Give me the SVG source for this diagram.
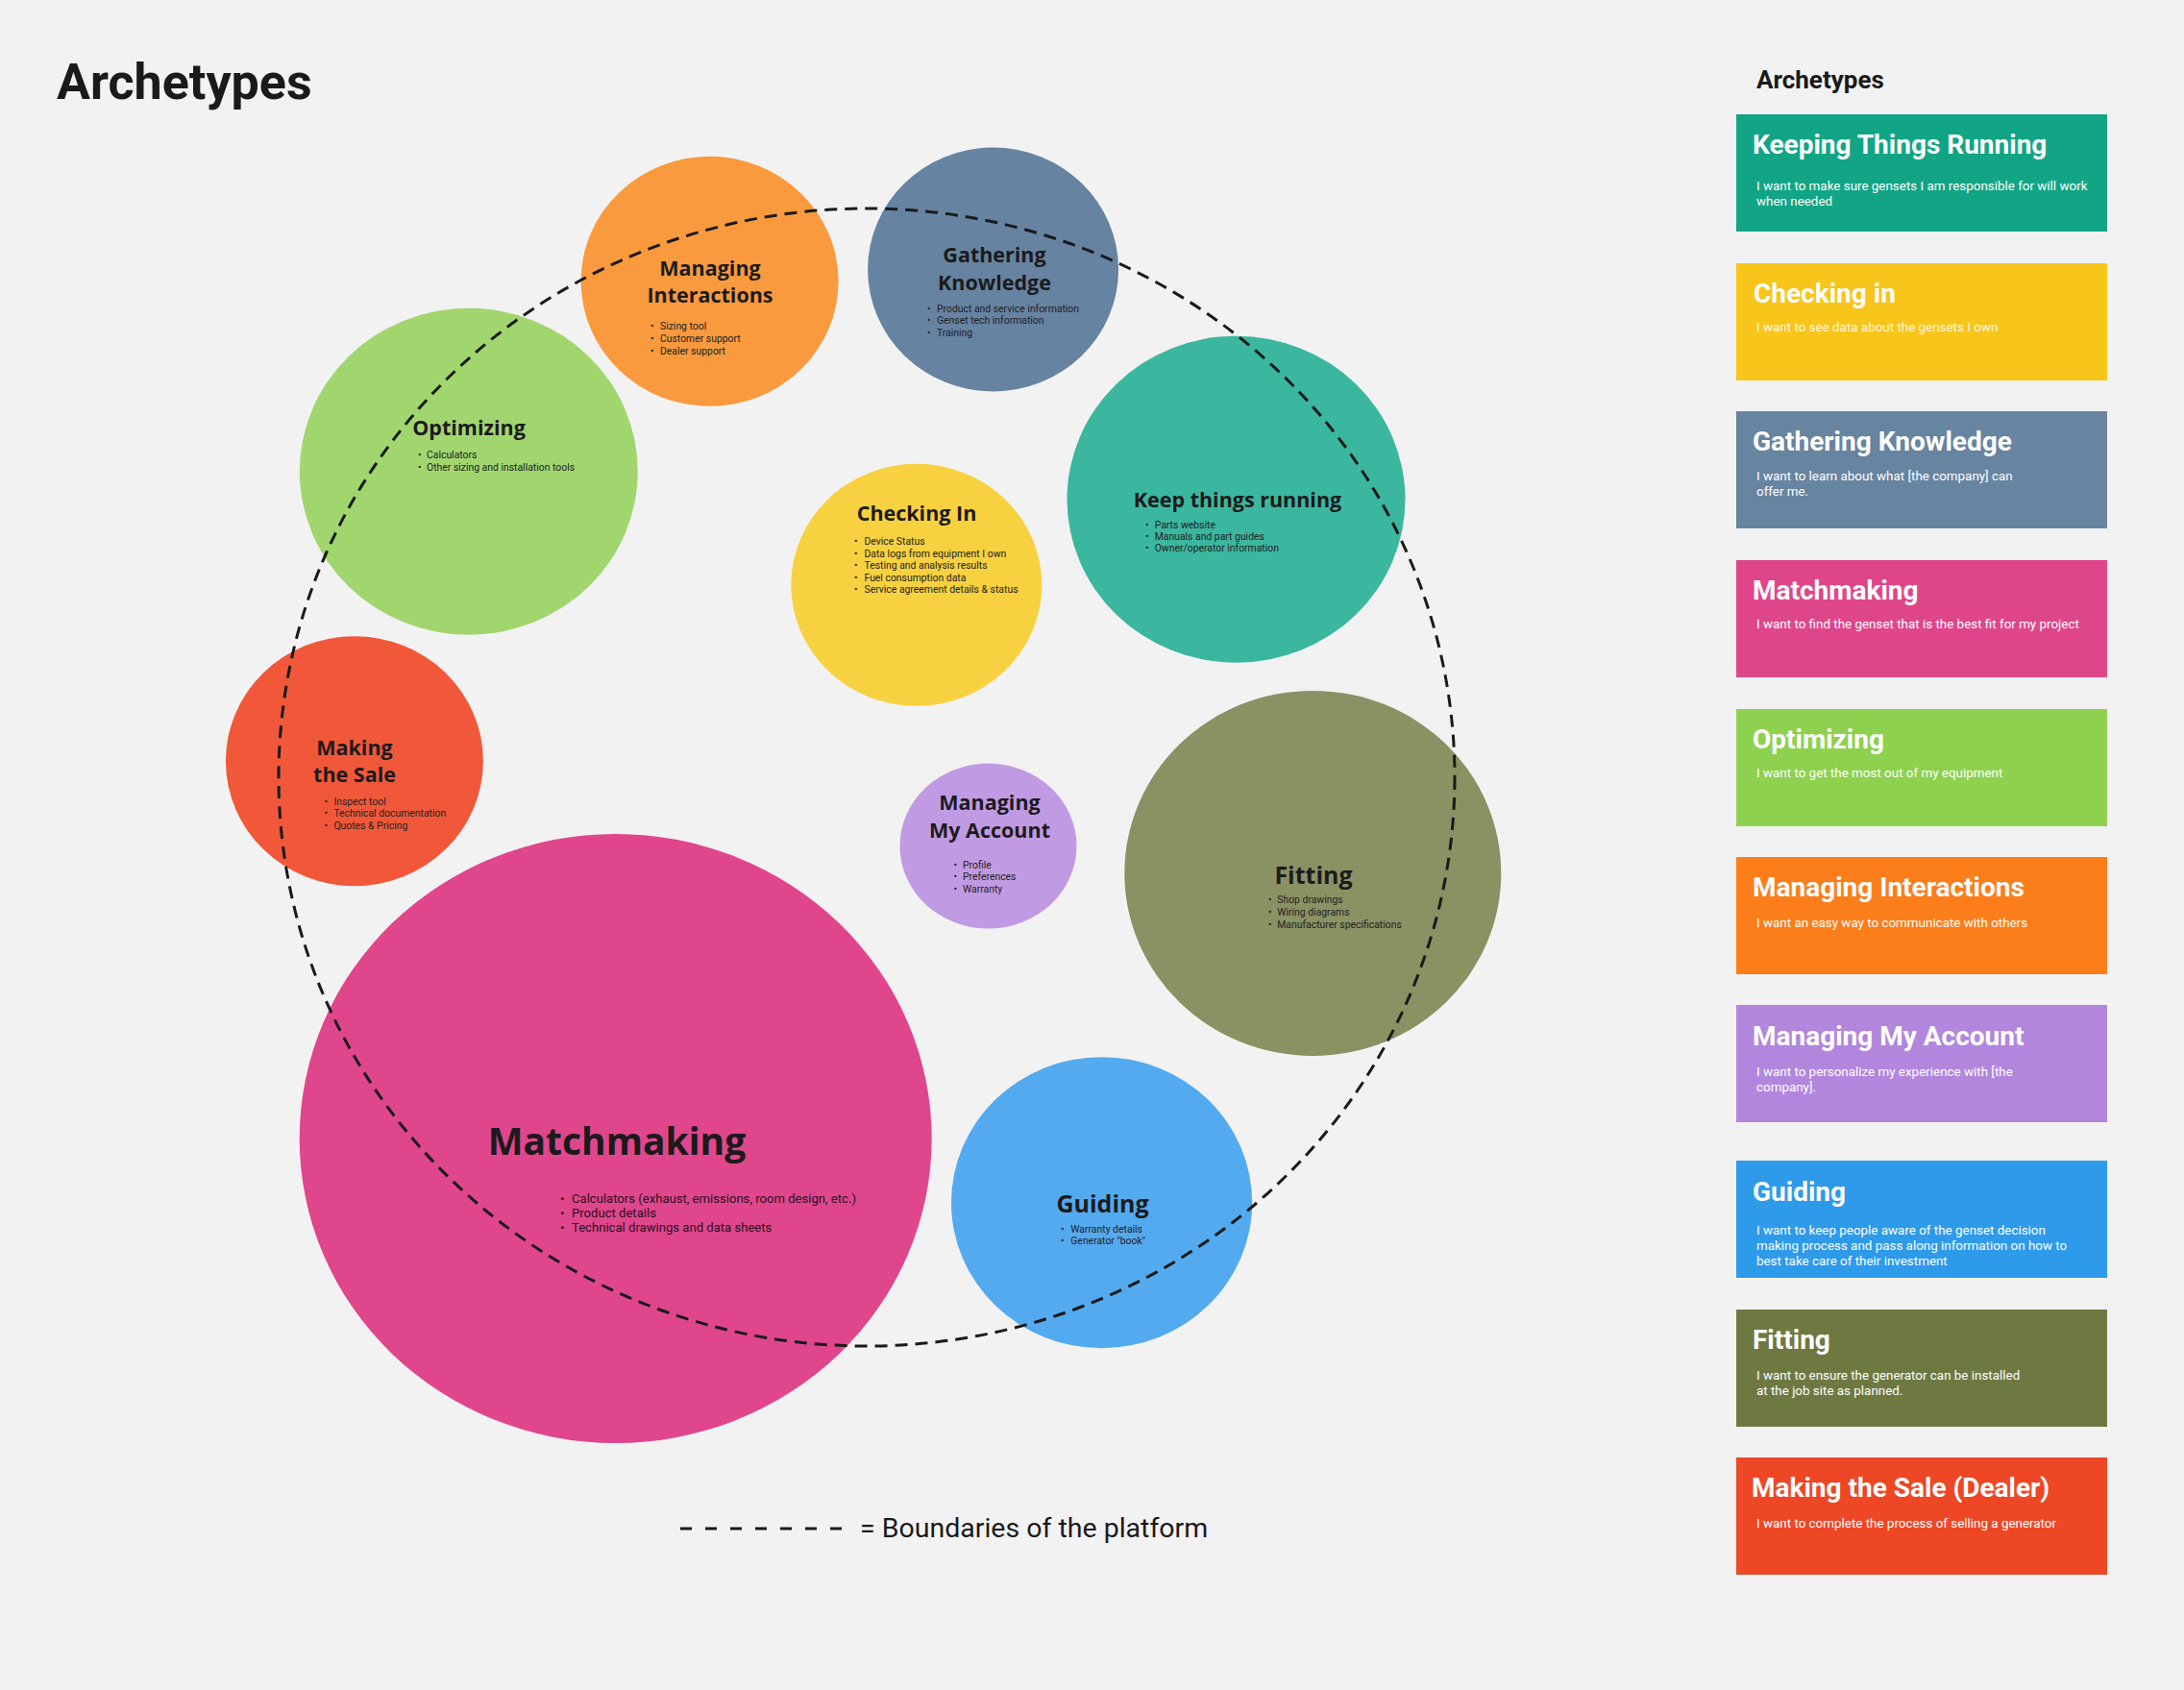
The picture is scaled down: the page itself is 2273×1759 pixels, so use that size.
<svg xmlns="http://www.w3.org/2000/svg" width="2273" height="1759" viewBox="0 0 2273 1759">
<style>
.ct{font-family:"Open Sans","Noto Sans",sans-serif;font-weight:700;fill:#1c1a1c;text-anchor:middle}
.b{font-family:Roboto,"Liberation Sans",sans-serif;font-size:10.4px;fill:#222}
.bm{font-family:Roboto,"Liberation Sans",sans-serif;font-size:13.1px;fill:#2a1020}
.kt{font-family:Roboto,"Liberation Sans",sans-serif;font-weight:700;font-size:28px;fill:#fff}
.kd{font-family:Roboto,"Liberation Sans",sans-serif;font-size:13.4px;fill:#fff}
.bd{fill:none;stroke:#1a1a1a;stroke-width:3;stroke-dasharray:13 8}
</style>
<rect width="2273" height="1759" fill="#f2f2f2"/>
<text x="59" y="103" font-family="Roboto,'Liberation Sans',sans-serif" font-weight="700" font-size="52" fill="#1a1a1a">Archetypes</text>

<g id="managing-interactions">
<ellipse cx="738.6" cy="292.8" rx="134" ry="130" fill="#f99a3e"/>
<text class="ct" font-size="21.5" x="739" y="287">Managing</text>
<text class="ct" font-size="21.5" x="739" y="315">Interactions</text>
<text class="b"><tspan x="677" y="343">•</tspan><tspan x="687" y="343">Sizing tool</tspan><tspan x="677" y="356">•</tspan><tspan x="687" y="356">Customer support</tspan><tspan x="677" y="369">•</tspan><tspan x="687" y="369">Dealer support</tspan></text>
</g>
<g id="gathering-knowledge">
<ellipse cx="1033.6" cy="280.5" rx="130.5" ry="127" fill="#6683a1"/>
<text class="ct" font-size="21.5" x="1035" y="273">Gathering</text>
<text class="ct" font-size="21.5" x="1035" y="302">Knowledge</text>
<text class="b"><tspan x="965" y="325">•</tspan><tspan x="975" y="325">Product and service information</tspan><tspan x="965" y="337">•</tspan><tspan x="975" y="337">Genset tech information</tspan><tspan x="965" y="350">•</tspan><tspan x="975" y="350">Training</tspan></text>
</g>
<g id="optimizing">
<ellipse cx="487.8" cy="490.7" rx="176" ry="170" fill="#a1d66f"/>
<text class="ct" font-size="21.5" x="488" y="453">Optimizing</text>
<text class="b"><tspan x="435" y="477">•</tspan><tspan x="444" y="477">Calculators</tspan><tspan x="435" y="489.5">•</tspan><tspan x="444" y="489.5">Other sizing and installation tools</tspan></text>
</g>
<g id="checking-in">
<ellipse cx="953.8" cy="608.8" rx="130.5" ry="126" fill="#f8d140"/>
<text class="ct" font-size="21.5" x="954" y="542">Checking In</text>
<text class="b"><tspan x="889" y="567">•</tspan><tspan x="899.5" y="567">Device Status</tspan><tspan x="889" y="579.5">•</tspan><tspan x="899.5" y="579.5">Data logs from equipment I own</tspan><tspan x="889" y="592">•</tspan><tspan x="899.5" y="592">Testing and analysis results</tspan><tspan x="889" y="604.5">•</tspan><tspan x="899.5" y="604.5">Fuel consumption data</tspan><tspan x="889" y="617">•</tspan><tspan x="899.5" y="617">Service agreement details &amp; status</tspan></text>
</g>
<g id="keep-things-running">
<ellipse cx="1286.5" cy="519.7" rx="176" ry="170" fill="#3ab79e"/>
<text class="ct" font-size="21.5" x="1288" y="528">Keep things running</text>
<text class="b"><tspan x="1192" y="549.5">•</tspan><tspan x="1201.7" y="549.5">Parts website</tspan><tspan x="1192" y="561.5">•</tspan><tspan x="1201.7" y="561.5">Manuals and part guides</tspan><tspan x="1192" y="574">•</tspan><tspan x="1201.7" y="574">Owner/operator information</tspan></text>
</g>
<g id="making-the-sale">
<ellipse cx="368.9" cy="792.2" rx="134" ry="130" fill="#f1583a"/>
<text class="ct" font-size="21.5" x="369" y="786">Making</text>
<text class="ct" font-size="21.5" x="369" y="814">the Sale</text>
<text class="b"><tspan x="337.5" y="837.5">•</tspan><tspan x="347.4" y="837.5">Inspect tool</tspan><tspan x="337.5" y="850">•</tspan><tspan x="347.4" y="850">Technical documentation</tspan><tspan x="337.5" y="862.5">•</tspan><tspan x="347.4" y="862.5">Quotes &amp; Pricing</tspan></text>
</g>
<g id="managing-my-account">
<ellipse cx="1028.5" cy="880.6" rx="92" ry="86" fill="#c09be3"/>
<text class="ct" font-size="21.5" x="1030" y="843">Managing</text>
<text class="ct" font-size="21.5" x="1030" y="872">My Account</text>
<text class="b"><tspan x="992.5" y="903.5">•</tspan><tspan x="1002" y="903.5">Profile</tspan><tspan x="992.5" y="916">•</tspan><tspan x="1002" y="916">Preferences</tspan><tspan x="992.5" y="928.5">•</tspan><tspan x="1002" y="928.5">Warranty</tspan></text>
</g>
<g id="fitting">
<ellipse cx="1366.3" cy="908.9" rx="196" ry="190" fill="#8a9163"/>
<text class="ct" font-size="25" x="1367" y="920">Fitting</text>
<text class="b"><tspan x="1320" y="940">•</tspan><tspan x="1329.3" y="940">Shop drawings</tspan><tspan x="1320" y="953">•</tspan><tspan x="1329.3" y="953">Wiring diagrams</tspan><tspan x="1320" y="966">•</tspan><tspan x="1329.3" y="966">Manufacturer specifications</tspan></text>
</g>
<g id="matchmaking">
<ellipse cx="640.7" cy="1185" rx="329" ry="317" fill="#e0468c"/>
<text class="ct" font-size="39" x="642" y="1202">Matchmaking</text>
<text class="bm"><tspan x="583" y="1252">•</tspan><tspan x="595" y="1252">Calculators (exhaust, emissions, room design, etc.)</tspan><tspan x="583" y="1267">•</tspan><tspan x="595" y="1267">Product details</tspan><tspan x="583" y="1282">•</tspan><tspan x="595" y="1282">Technical drawings and data sheets</tspan></text>
</g>
<g id="guiding">
<ellipse cx="1146.6" cy="1251.7" rx="156.6" ry="151.5" fill="#54aaee"/>
<text class="ct" font-size="25" x="1147.5" y="1262">Guiding</text>
<text class="b"><tspan x="1104" y="1283">•</tspan><tspan x="1114.3" y="1283">Warranty details</tspan><tspan x="1104" y="1294.5">•</tspan><tspan x="1114.3" y="1294.5">Generator "book"</tspan></text>
</g>

<g id="connectors">
<ellipse class="bd" cx="902" cy="809" rx="612" ry="592"/>
</g>

<g id="legend">
<line x1="708" y1="1591" x2="880" y2="1591" stroke="#1a1a1a" stroke-width="3" stroke-dasharray="12 14"/>
<text x="895" y="1600" font-family="Roboto,'Liberation Sans',sans-serif" font-size="28.5" fill="#1a1a1a">= Boundaries of the platform</text>
</g>

<text x="1828" y="92" font-family="Roboto,'Liberation Sans',sans-serif" font-weight="700" font-size="26" fill="#1a1a1a">Archetypes</text>

<g id="card-keeping">
<rect x="1807" y="119" width="386" height="122" fill="#12a585"/>
<text class="kt" x="1824" y="160">Keeping Things Running</text>
<text class="kd"><tspan x="1828" y="198">I want to make sure gensets I am responsible for will work</tspan><tspan x="1828" y="214">when needed</tspan></text>
</g>
<g id="card-checking">
<rect x="1807" y="274" width="386" height="122" fill="#f8c51a"/>
<text class="kt" x="1825" y="315">Checking in</text>
<text class="kd" fill-opacity="0.9"><tspan x="1828" y="345">I want to see data about the gensets I own</tspan></text>
</g>
<g id="card-gathering">
<rect x="1807" y="428" width="386" height="122" fill="#6784a0"/>
<text class="kt" x="1824" y="469">Gathering Knowledge</text>
<text class="kd"><tspan x="1828" y="500">I want to learn about what [the company] can</tspan><tspan x="1828" y="516">offer me.</tspan></text>
</g>
<g id="card-matchmaking">
<rect x="1807" y="583" width="386" height="122" fill="#df468a"/>
<text class="kt" x="1824" y="624">Matchmaking</text>
<text class="kd"><tspan x="1828" y="654">I want to find the genset that is the best fit for my project</tspan></text>
</g>
<g id="card-optimizing">
<rect x="1807" y="738" width="386" height="122" fill="#8ed14f"/>
<text class="kt" x="1824" y="779">Optimizing</text>
<text class="kd"><tspan x="1828" y="809">I want to get the most out of my equipment</tspan></text>
</g>
<g id="card-interactions">
<rect x="1807" y="892" width="386" height="122" fill="#fb7e1b"/>
<text class="kt" x="1824" y="933">Managing Interactions</text>
<text class="kd"><tspan x="1828" y="965">I want an easy way to communicate with others</tspan></text>
</g>
<g id="card-account">
<rect x="1807" y="1046" width="386" height="122" fill="#b286dd"/>
<text class="kt" x="1824" y="1088">Managing My Account</text>
<text class="kd"><tspan x="1828" y="1120">I want to personalize my experience with [the</tspan><tspan x="1828" y="1136">company].</tspan></text>
</g>
<g id="card-guiding">
<rect x="1807" y="1208" width="386" height="122" fill="#2e9aea"/>
<text class="kt" x="1824" y="1250">Guiding</text>
<text class="kd"><tspan x="1828" y="1285">I want to keep people aware of the genset decision</tspan><tspan x="1828" y="1301">making process and pass along information on how to</tspan><tspan x="1828" y="1317">best take care of their investment</tspan></text>
</g>
<g id="card-fitting">
<rect x="1807" y="1363" width="386" height="122" fill="#6e7942"/>
<text class="kt" x="1824" y="1404">Fitting</text>
<text class="kd"><tspan x="1828" y="1436">I want to ensure the generator can be installed</tspan><tspan x="1828" y="1452">at the job site as planned.</tspan></text>
</g>
<g id="card-making-sale">
<rect x="1807" y="1517" width="386" height="122" fill="#ee4726"/>
<text class="kt" x="1823" y="1558">Making the Sale (Dealer)</text>
<text class="kd"><tspan x="1828" y="1590">I want to complete the process of selling a generator</tspan></text>
</g>
</svg>
